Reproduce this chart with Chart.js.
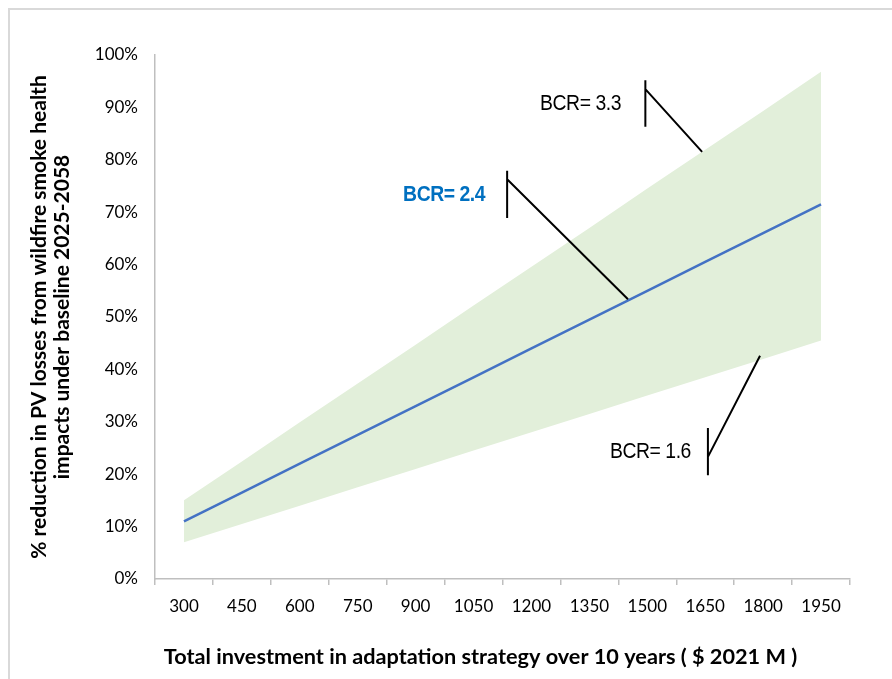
<!DOCTYPE html>
<html>
<head>
<meta charset="utf-8">
<script src="https://cdn.jsdelivr.net/npm/chart.js@4.4.1/dist/chart.umd.min.js"></script>
<style>
  html, body { margin: 0; padding: 0; background: #fff; }
  #frame { position: absolute; left: 8px; top: 8px; right: 0; bottom: 0; border-left: 2px solid #d9d9d9; border-top: 2px solid #d9d9d9; }
  #wrap { position: absolute; left: 0; top: 0; width: 892px; height: 679px; }
</style>
</head>
<body>
<div id="frame"></div>
<div id="wrap"><canvas id="chartCanvas"></canvas></div>
<script>
// investment levels ($ 2021 M)
const investment = ["300", "450", "600", "750", "900", "1050", "1200", "1350", "1500", "1650", "1800", "1950"];
// % reduction in PV losses
const bcrMid = [11, 16.5, 22, 27.5, 33, 38.5, 44, 49.5, 55, 60.5, 66, 71.5];
const bcrHigh = [15, 22.4, 29.9, 37.3, 44.7, 52.2, 59.6, 67, 74.5, 81.9, 89.3, 96.8];
const bcrLow = [7, 10.5, 14, 17.5, 21, 24.5, 28, 31.5, 35, 38.5, 42, 45.5];
const yTicks = [0, 10, 20, 30, 40, 50, 60, 70, 80, 90, 100];
const xTitle = "Total investment in adaptation strategy over 10 years ( $ 2021 M )";

// callouts in data units: label anchor, marker tick, leader end
const callouts = [
  { text: "BCR= 3.3", bold: false, color: "#000", lx: 1432, ly: 90.6, tx: 1495, ty1: 95.2, ty2: 86.3, sy: 93.5, ex: 1642, ey: 81.5 },
  { text: "BCR= 2.4", bold: true, color: "#0070c0", lx: 1080, ly: 73.3, tx: 1137, ty1: 77.9, ty2: 68.9, sy: 76.3, ex: 1450, ey: 53.4 },
  { text: "BCR= 1.6", bold: false, color: "#000", lx: 1613, ly: 24.2, tx: 1657, ty1: 28.8, ty2: 19.8, sy: 23.3, ex: 1792, ey: 42.6 }
];

const toIndex = (v) => (v - Number(investment[0])) / 150;

const calloutPlugin = {
  id: "callouts",
  afterDatasetsDraw(chart) {
    const { ctx, scales: { x, y } } = chart;
    ctx.save();
    callouts.forEach((c) => {
      const tx = x.getPixelForValue(toIndex(c.tx));
      ctx.strokeStyle = "#000";
      ctx.lineWidth = 2;
      ctx.beginPath();
      ctx.moveTo(tx, y.getPixelForValue(c.ty1));
      ctx.lineTo(tx, y.getPixelForValue(c.ty2));
      ctx.moveTo(tx, y.getPixelForValue(c.sy));
      ctx.lineTo(x.getPixelForValue(toIndex(c.ex)), y.getPixelForValue(c.ey));
      ctx.stroke();

      // squeezed a bit horizontally, like the original
      const px = x.getPixelForValue(toIndex(c.lx));
      const py = y.getPixelForValue(c.ly);
      ctx.save();
      ctx.translate(px, py);
      ctx.scale(0.88, 1);
      ctx.font = (c.bold ? "bold 22px" : "22px") + " 'Liberation Sans', Arial, sans-serif";
      ctx.letterSpacing = "-0.5px";
      ctx.fillStyle = c.color;
      ctx.textAlign = "right";
      ctx.textBaseline = "middle";
      ctx.fillText(c.text, 0, 0);
      ctx.restore();
    });

    // x axis title, sits a little left of the plot centre in the original
    ctx.font = "bold 21.7px Lato, 'Open Sans', sans-serif";
    ctx.fillStyle = "#000";
    ctx.textAlign = "center";
    ctx.textBaseline = "middle";
    ctx.fillText(xTitle, (chart.chartArea.left + chart.chartArea.right) / 2 - 22, x.bottom - 22);
    ctx.restore();
  }
};

const axisFont = { family: "Lato, 'Open Sans', sans-serif", size: 17 };
const titleFont = { family: "Lato, 'Open Sans', sans-serif", size: 21, weight: "bold", lineHeight: 1.1 };

new Chart(document.getElementById("chartCanvas"), {
  type: "line",
  data: {
    labels: investment,
    datasets: [
      { label: "upper", data: bcrHigh, fill: "+1", backgroundColor: "#e2efda", borderWidth: 0, pointRadius: 0, tension: 0, order: 2 },
      { label: "lower", data: bcrLow, fill: false, borderWidth: 0, pointRadius: 0, tension: 0, order: 1 },
      { label: "BCR 2.4", data: bcrMid, fill: false, borderColor: "#4472c4", borderWidth: 2.5, pointRadius: 0, tension: 0, order: 0 }
    ]
  },
  options: {
    responsive: true,
    maintainAspectRatio: false,
    animation: false,
    layout: { padding: { left: 0, top: 55, right: 42, bottom: 0 } },
    plugins: { legend: { display: false }, tooltip: { enabled: false }, filler: { drawTime: "beforeDatasetsDraw" } },
    scales: {
      x: {
        type: "category",
        offset: true,
        grid: { offset: true, drawOnChartArea: false, drawTicks: true, tickLength: 6, color: "#bfbfbf", lineWidth: 1.5 },
        border: { color: "#bfbfbf", width: 1.5 },
        ticks: { color: "#000", font: axisFont, padding: 11, maxRotation: 0 },
        title: { display: false },
        afterFit: (scale) => { scale.height = 100; }
      },
      y: {
        min: 0,
        max: 100,
        afterBuildTicks: (scale) => { scale.ticks = yTicks.map((v) => ({ value: v })); },
        grid: { drawOnChartArea: false, drawTicks: false },
        border: { color: "#bfbfbf", width: 1.5 },
        ticks: { color: "#000", font: axisFont, padding: 17, callback: (v) => v + "%" },
        title: {
          display: true,
          text: ["% reduction in PV losses from wildfire smoke health", "impacts under baseline 2025-2058"],
          color: "#000",
          font: titleFont,
          padding: { top: 28, bottom: 0 }
        },
        afterFit: (scale) => { scale.width = 155; }
      }
    }
  },
  plugins: [calloutPlugin]
});
</script>
</body>
</html>
